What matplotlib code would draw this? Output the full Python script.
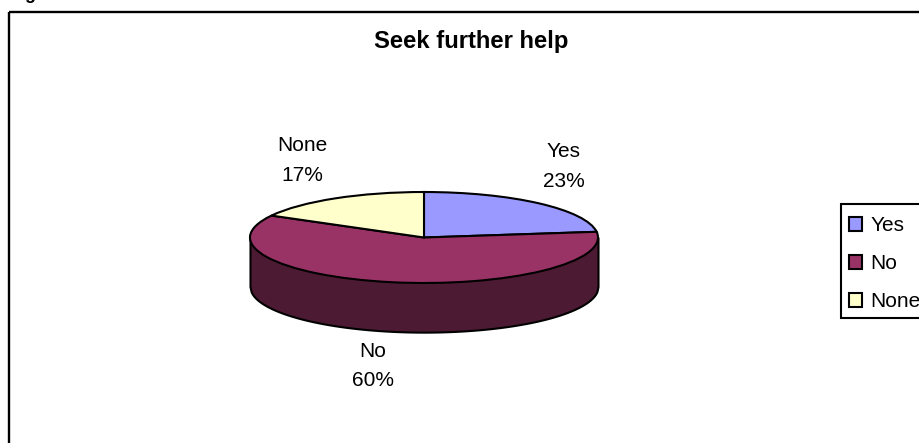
import numpy as np
import matplotlib
matplotlib.use("Agg")
import matplotlib.pyplot as plt
from matplotlib.patches import Rectangle

plt.rcParams['font.family'] = ['Liberation Sans', 'DejaVu Sans']

labels = ['Yes', 'No', 'None']
values = [23, 60, 17]
colors = ['#9999FF', '#993366', '#FFFFCC']
side_color = '#4D1A33'

W, H = 920, 443
fig = plt.figure(figsize=(W/100, H/100), dpi=100, facecolor='white')

# page layer in pixel coordinates, y pointing down
page = fig.add_axes([0, 0, 1, 1])
page.set_xlim(0, W)
page.set_ylim(H, 0)
page.axis('off')

page.add_patch(Rectangle((9.5, 12), W, H, fill=False, ec='black', lw=1.7))
page.text(30, -6, 'g', fontsize=13, fontweight='bold', ha='center', va='center')
page.text(471.5, 41, 'Seek further help', fontsize=17.2, fontweight='bold',
          ha='center', va='center')

# value labels
label_pos = [(564, 166.5), (373, 366), (302, 160.5)]
for name, v, (x, y) in zip(labels, values, label_pos):
    page.text(x, y, f'{name}\n{v}%', fontsize=15, ha='center', va='center',
              linespacing=1.7)

# pie top is a unit circle squashed into this pixel box
left, right, top, bottom = 250, 598, 192, 283
ax = fig.add_axes([left/W, 1 - bottom/H, (right-left)/W, (bottom-top)/H])
wedges, _ = ax.pie(values, colors=colors, startangle=90, counterclock=False,
                   radius=1, wedgeprops=dict(ec='black', lw=1.5, clip_on=False))
ax.set_aspect('auto')
ax.set_xlim(-1, 1)
ax.set_ylim(-1, 1)

# side wall below the front half
depth = 1.08
xs = np.linspace(-1, 1, 300)
rim = -np.sqrt(1 - xs**2)
ax.fill_between(xs, rim - depth, 0, color=side_color, ec='black', lw=1.5,
                zorder=0, clip_on=False)

# legend box runs past the right edge, so the frame is drawn on its own
page.add_patch(Rectangle((841.5, 204), 100, 114, fc='white', ec='black', lw=1.5))
leg = fig.legend(wedges, labels, loc='upper left',
                 bbox_to_anchor=(849/W, 1 - 216.5/H), bbox_transform=fig.transFigure,
                 fontsize=15, frameon=False, handlelength=0.63, handleheight=0.63,
                 handletextpad=0.38, labelspacing=0.91, borderpad=0,
                 borderaxespad=0)

fig.savefig('out.png', dpi=100)
